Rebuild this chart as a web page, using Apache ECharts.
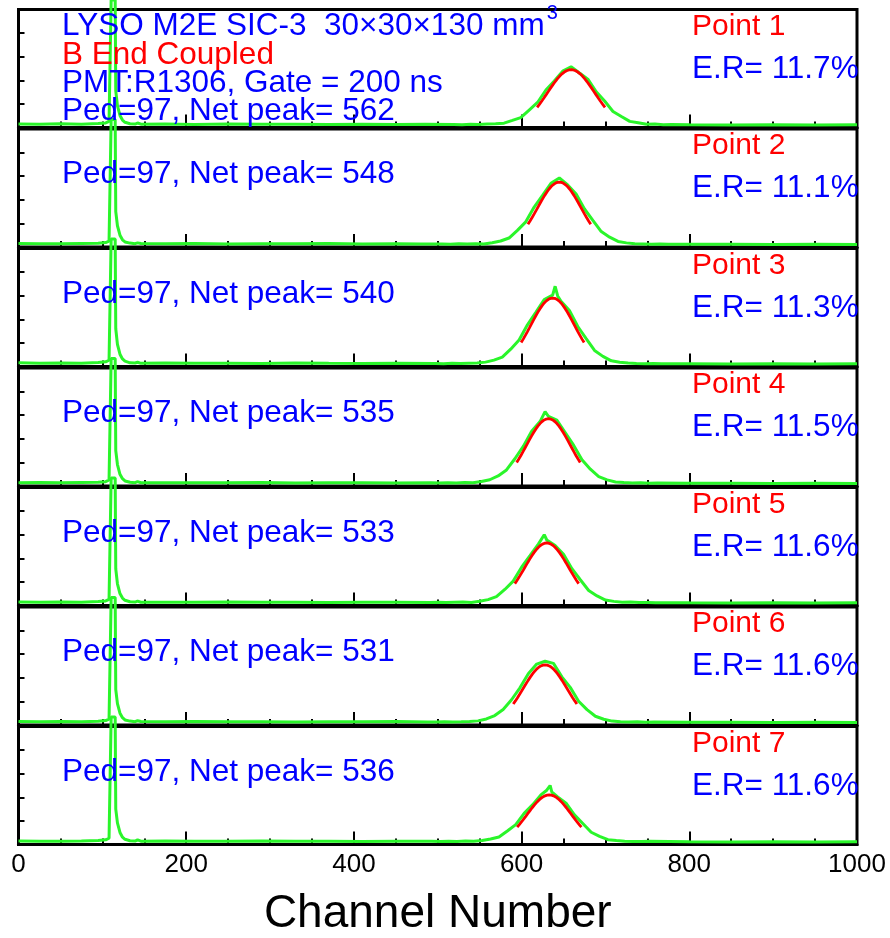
<!DOCTYPE html>
<html>
<head>
<meta charset="utf-8">
<script src="https://cdn.jsdelivr.net/npm/echarts@6/dist/echarts.min.js"></script>
<style>
  html, body { margin: 0; padding: 0; background: #fff; }
  #chart { width: 890px; height: 938px; }
</style>
</head>
<body>
<div id="chart"></div>
<script>
// ---- data ---------------------------------------------------------------
const pointLabels = ['Point 1', 'Point 2', 'Point 3', 'Point 4', 'Point 5', 'Point 6', 'Point 7'];
const pedestal   = [97, 97, 97, 97, 97, 97, 97];
const netPeak    = [562, 548, 540, 535, 533, 531, 536];
const energyRes  = [11.7, 11.1, 11.3, 11.5, 11.6, 11.6, 11.6];   // FWHM / net peak, %
const fitHeight  = [49, 55, 58, 57, 53, 51, 42];                  // fitted Gaussian amplitude
const xTickLabels = [0, 200, 400, 600, 800, 1000];
const headerLines = ['LYSO M2E SIC-3  30\u00d730\u00d7130 mm', 'B End Coupled', 'PMT:R1306, Gate = 200 ns'];
const headerSup = '3';
const axisTitle = 'Channel Number';

// spectra: [channel, counts] (counts scaled to panel height 0..100)
const spectrum1 = [
  [0,3.0],[25,2.7],[50,3.1],[75,2.8],[95,3.3],[104,3.9],[108,5.2],[110.5,108],[115.3,108],[116,31],[118,18.5],[121,10.2],[124,6.3],[127,4.4],[133,3.2],[139,2.9],[142,3.8],[146,2.8],[175,2.9],[210,2.6],[250,2.9],[290,2.7],[330,2.8],[370,2.6],[410,2.8],[450,2.6],[485,2.7],
  [519,2.5],[529,2.4],[539,2.7],[549,2.6],[559,2.9],[569,3.2],[579,3.7],[589,6.0],[599,8.4],[609,14.8],[619,21.2],[629,31.8],[639,39.4],[649,47.8],[659,51.5],[669,46.2],[679,41.0],[689,30.2],[699,22.5],[709,13.6],[719,9.3],[729,5.2],[739,4.1],[749,2.8],[759,2.9],[769,2.4],[779,2.6],
  [800,2.4],[850,2.2],[900,2.4],[950,2.2],[1000,2.3]
];
const spectrum2 = [
  [0,2.9],[25,2.8],[50,2.7],[75,3.0],[95,3.2],[104,3.8],[108,5.0],[110.5,108],[115.3,108],[116,30],[118,18.0],[121,10.0],[124,6.1],[127,4.3],[133,3.3],[139,2.8],[142,3.5],[146,2.9],[175,2.7],[210,2.9],[250,2.6],[290,2.8],[330,2.7],[370,2.9],[410,2.6],[450,2.8],[480,2.6],
  [505,2.6],[515,2.4],[525,2.7],[535,2.5],[545,2.8],[555,2.6],[565,3.6],[575,5.1],[585,7.6],[595,14.1],[605,21.3],[615,33.8],[625,43.7],[635,54.0],[645,58.5],[655,52.6],[665,45.0],[675,32.2],[685,22.6],[695,13.1],[705,8.3],[715,4.7],[725,3.5],[735,2.7],[745,2.5],[755,2.3],[765,2.6],[775,2.3],
  [800,2.4],[850,2.3],[900,2.2],[950,2.4],[1000,2.2]
];
const spectrum3 = [
  [0,3.1],[25,2.7],[50,2.9],[75,2.8],[95,3.4],[104,4.0],[108,5.3],[110.5,108],[115.3,108],[116,32],[118,18.8],[121,10.4],[124,6.4],[127,4.5],[133,3.1],[139,3.0],[142,3.6],[146,2.7],[175,2.9],[210,2.7],[250,2.8],[290,2.6],[330,2.9],[370,2.7],[410,2.6],[450,2.8],
  [497,2.6],[507,2.4],[517,2.7],[527,2.5],[537,2.8],[547,2.9],[557,3.7],[567,5.4],[577,8.0],[587,14.7],[597,22.4],[607,35.3],[617,46.0],[627,56.8],[637,60.5],[640,68.0],[643,59.8],[647,55.2],[657,47.5],[667,33.9],[677,23.6],[687,13.6],[697,8.6],[707,4.8],[717,3.6],[727,2.9],[737,2.6],[747,2.4],[757,2.5],[767,2.3],
  [800,2.4],[850,2.2],[900,2.3],[950,2.2],[1000,2.3]
];
const spectrum4 = [
  [0,2.8],[25,2.9],[50,2.7],[75,3.0],[95,3.1],[104,3.7],[108,5.1],[110.5,108],[115.3,108],[116,30],[118,18.2],[121,9.9],[124,6.2],[127,4.3],[133,3.2],[139,2.8],[142,3.7],[146,2.8],[175,2.7],[210,2.8],[250,2.7],[290,2.9],[330,2.6],[370,2.8],[410,2.7],[450,2.6],
  [492,2.7],[502,2.5],[512,2.8],[522,2.6],[532,2.9],[542,2.7],[552,3.8],[562,5.3],[572,8.5],[582,13.6],[592,23.1],[602,33.6],[612,46.5],[622,54.6],[628,63.0],[632,59.0],[642,55.8],[652,45.2],[662,34.6],[672,22.3],[682,14.2],[692,7.9],[702,5.2],[712,3.4],[722,2.9],[732,2.6],[742,2.7],[752,2.4],[762,2.5],
  [800,2.3],[850,2.4],[900,2.2],[950,2.3],[1000,2.2]
];
const spectrum5 = [
  [0,3.0],[25,2.8],[50,2.9],[75,2.7],[95,3.3],[104,3.9],[108,5.2],[110.5,108],[115.3,108],[116,31],[118,18.4],[121,10.1],[124,6.3],[127,4.4],[133,3.2],[139,2.9],[142,3.7],[146,2.8],[175,2.8],[210,2.7],[250,2.9],[290,2.7],[330,2.8],[370,2.6],[410,2.8],[450,2.7],
  [490,2.6],[500,2.8],[510,2.5],[520,2.7],[530,2.9],[540,2.6],[550,3.6],[560,5.0],[570,7.5],[580,13.6],[590,20.7],[600,32.5],[610,42.2],[620,52.0],[627,60.0],[630,55.5],[640,50.8],[650,43.4],[660,31.2],[670,21.8],[680,12.7],[690,8.1],[700,4.6],[710,3.5],[720,2.7],[730,2.9],[740,2.5],[750,2.6],[760,2.4],
  [800,2.3],[850,2.2],[900,2.4],[950,2.2],[1000,2.3]
];
const spectrum6 = [
  [0,2.9],[25,2.7],[50,3.0],[75,2.8],[95,3.2],[104,3.8],[108,5.0],[110.5,108],[115.3,108],[116,30],[118,18.1],[121,10.0],[124,6.2],[127,4.3],[133,3.3],[139,2.8],[142,3.6],[146,2.9],[175,2.8],[210,2.9],[250,2.7],[290,2.8],[330,2.6],[370,2.8],[410,2.7],[450,2.9],
  [488,2.6],[498,2.5],[508,2.8],[518,2.6],[528,2.7],[538,2.9],[548,3.5],[558,5.1],[568,8.0],[578,13.2],[588,21.4],[598,31.5],[608,43.5],[618,51.6],[628,54.0],[638,52.2],[648,40.8],[658,31.9],[668,20.1],[678,13.0],[688,7.4],[698,4.9],[708,3.3],[718,2.8],[728,2.6],[738,2.7],[748,2.4],[758,2.5],
  [800,2.4],[850,2.3],[900,2.2],[950,2.3],[1000,2.2]
];
const spectrum7 = [
  [0,3.0],[25,2.8],[50,2.7],[75,2.9],[95,3.3],[104,4.0],[108,5.3],[110.5,108],[115.3,108],[116,30],[118,18.3],[121,10.2],[124,6.2],[127,4.4],[133,3.2],[139,2.9],[142,3.9],[146,2.8],[175,2.9],[210,2.7],[250,2.8],[290,2.9],[330,2.7],[370,2.8],[410,2.6],[450,2.8],
  [493,2.7],[503,2.5],[513,2.8],[523,2.6],[533,2.9],[543,2.7],[553,3.4],[563,4.6],[573,6.3],[583,11.4],[593,16.8],[603,26.4],[613,33.6],[623,42.0],[630,46.0],[634,50.0],[636,44.5],[643,40.4],[653,35.0],[663,25.1],[673,17.8],[683,10.4],[693,6.9],[703,4.1],[713,3.3],[723,2.8],[733,2.6],[743,2.5],[753,2.7],
  [800,2.4],[850,2.2],[900,2.3],[950,2.2],[1000,2.3]
];
const spectra = [spectrum1, spectrum2, spectrum3, spectrum4, spectrum5, spectrum6, spectrum7];

// ---- layout & style -----------------------------------------------------
const FONT = '"Liberation Sans", Arial, Helvetica, sans-serif';
const BLUE = '#0000ff', RED = '#ff0000', GREEN = '#2af52a';
const plotLeft = 18.5, plotWidth = 838.5;
const firstTop = 9.5, panelStep = 119.5, panelHeight = 118;
const nPanels = pointLabels.length;
const panelTop = k => firstTop + k * panelStep;

// Gaussian fit curve over +-1.45 sigma, sigma derived from the energy resolution
function fitCurve(k) {
  const centre = pedestal[k] + netPeak[k];
  const sigma = energyRes[k] / 100 * netPeak[k] / 2.3548;
  const lo = centre - 1.45 * sigma, hi = centre + 1.45 * sigma;
  const pts = [];
  for (let x = lo; x <= hi + 1e-6; x += (hi - lo) / 60) {
    pts.push([x, fitHeight[k] * Math.exp(-((x - centre) ** 2) / (2 * sigma * sigma))]);
  }
  return pts;
}

const grids = [], xAxes = [], yAxes = [], series = [];
for (let k = 0; k < nPanels; k++) {
  const last = k === nPanels - 1;
  grids.push({
    left: plotLeft, width: plotWidth, top: panelTop(k), height: panelHeight,
    show: true, borderColor: '#000', borderWidth: 3, backgroundColor: 'transparent',
    containLabel: false, outerBoundsMode: 'none'
  });
  xAxes.push({
    type: 'value', gridIndex: k,
    min: xTickLabels[0], max: xTickLabels[xTickLabels.length - 1], interval: 200,
    axisLine: { show: true, onZero: false, lineStyle: { color: '#000', width: 3 } },
    axisTick: { show: true, inside: true, length: 13, lineStyle: { color: '#000', width: 2 } },
    minorTick: { show: true, splitNumber: 4, length: 6, lineStyle: { color: '#000', width: 2 } },
    splitLine: { show: false }, minorSplitLine: { show: false },
    axisLabel: {
      show: last, margin: 7, color: '#000', fontSize: 26, fontFamily: FONT,
      showMinLabel: true, showMaxLabel: true,
      formatter: v => String(v)
    },
    name: last ? axisTitle : '',
    nameLocation: 'middle', nameGap: 47,
    nameTextStyle: { color: '#000', fontSize: 46, fontFamily: FONT }
  });
  yAxes.push({
    type: 'value', gridIndex: k, min: 0, max: 100, interval: 20,
    axisLine: { show: true, lineStyle: { color: '#000', width: 3 } },
    axisTick: { show: true, inside: true, length: 6, lineStyle: { color: '#000', width: 2 } },
    axisLabel: { show: false }, splitLine: { show: false }
  });
  series.push({
    type: 'line', xAxisIndex: k, yAxisIndex: k, data: spectra[k],
    showSymbol: false, clip: false, silent: true, animation: false, z: 2,
    lineStyle: { color: GREEN, width: 3 }
  });
  series.push({
    type: 'line', xAxisIndex: k, yAxisIndex: k, data: fitCurve(k),
    showSymbol: false, smooth: false, silent: true, animation: false, z: 3,
    lineStyle: { color: RED, width: 2.8 }
  });
}

// ---- text annotations ---------------------------------------------------
function textEl(str, x, y, color, size) {
  return {
    type: 'text', x: x, y: y, silent: true, z: 10,
    style: {
      text: str, fill: color, font: size + 'px ' + FONT,
      textAlign: 'left', textVerticalAlign: 'middle', align: 'left', verticalAlign: 'middle'
    }
  };
}
const graphics = [];
const headerColors = [BLUE, RED, BLUE];
const headerY = [26, 55.5, 83.5];
headerLines.forEach((t, i) => graphics.push(textEl(t, 62, headerY[i], headerColors[i], 31.5)));

// superscript after the first header line
const measureCtx = document.createElement('canvas').getContext('2d');
measureCtx.font = '31.5px ' + FONT;
const headerWidth = measureCtx.measureText(headerLines[0]).width;
graphics.push(textEl(headerSup, 62 + headerWidth + 2, 13.5, BLUE, 20));

for (let k = 0; k < nPanels; k++) {
  const top = panelTop(k);
  const pedY = k === 0 ? 111 : top + 45.5;
  graphics.push(textEl('Ped=' + pedestal[k] + ', Net peak= ' + netPeak[k], 62, pedY, BLUE, 31.5));
  graphics.push(textEl(pointLabels[k], 692, top + 17, RED, 30));
  graphics.push(textEl('E.R= ' + energyRes[k].toFixed(1) + '%', 692, top + 59.5, BLUE, 31.5));
}

const chart = echarts.init(document.getElementById('chart'), null, { renderer: 'canvas' });
chart.setOption({
  animation: false,
  backgroundColor: '#fff',
  grid: grids, xAxis: xAxes, yAxis: yAxes, series: series,
  graphic: graphics
});
</script>
</body>
</html>
